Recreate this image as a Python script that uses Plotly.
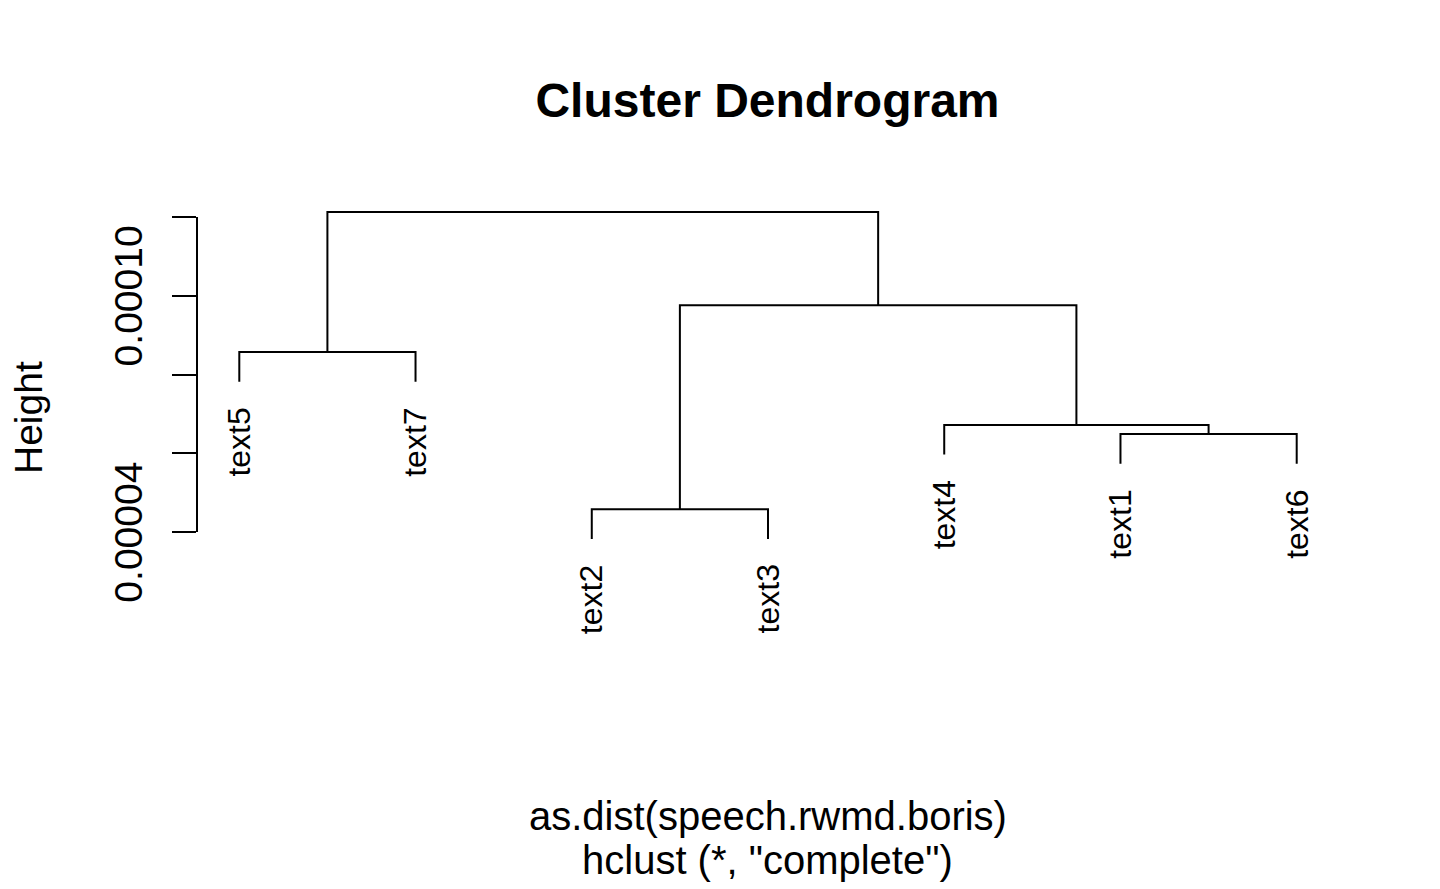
import plotly.graph_objects as go

# ---- data ----
leaf_order = ["text5", "text7", "text2", "text3", "text4", "text1", "text6"]
merge_names = ["m1", "m2", "m3", "m4", "m5", "m6"]
merge_left = ["text1", "text2", "text4", "text5", "m2", "m4"]
merge_right = ["text6", "text3", "m1", "text7", "m3", "m5"]
merge_height = [6.49e-5, 4.58e-5, 6.72e-5, 8.57e-5, 9.76e-5, 1.2127e-4]
tick_vals = [4e-5, 6e-5, 8e-5, 1.0e-4, 1.2e-4]
tick_text = ["0.00004", "", "", "0.00010", ""]

FONT = "Liberation Sans, Arial, Helvetica, sans-serif"
W, H = 1440, 889
ML, MR, MT, MB = 197, 101, 180, 269
PW, PH = W - ML - MR, H - MT - MB
y_lo, y_hi = 1.765e-5, 1.29397e-4


def px_x(px):
    return (px - ML) / PW


def px_y(py):
    return 1 - (py - MT) / PH


hang = 0.1 * (max(merge_height) - min(merge_height))
xpos = {name: i + 1 for i, name in enumerate(leaf_order)}
hpos = {}
for n, l, r, h in zip(merge_names, merge_left, merge_right, merge_height):
    xpos[n] = (xpos[l] + xpos[r]) / 2
    hpos[n] = h

xs, ys = [], []
leaf_bottom = {}
for n, l, r, h in zip(merge_names, merge_left, merge_right, merge_height):
    yl = hpos[l] if l in hpos else h - hang
    yr = hpos[r] if r in hpos else h - hang
    if l not in hpos:
        leaf_bottom[l] = yl
    if r not in hpos:
        leaf_bottom[r] = yr
    xs += [xpos[l], xpos[l], xpos[r], xpos[r], None]
    ys += [yl, h, h, yr, None]

fig = go.Figure()
fig.add_trace(go.Scatter(x=xs, y=ys, mode="lines",
                         line=dict(color="black", width=2),
                         hoverinfo="skip", showlegend=False))

annotations = []
for name in leaf_order:
    annotations.append(dict(x=xpos[name], y=leaf_bottom[name], xref="x", yref="y",
                            text=name, textangle=-90, showarrow=False,
                            xanchor="center", yanchor="top", yshift=-24,
                            font=dict(family=FONT, size=32, color="black")))
cx = px_x(767.5)
annotations.append(dict(x=cx, y=px_y(816), xref="paper", yref="paper",
                        text="as.dist(speech.rwmd.boris)", showarrow=False,
                        xanchor="center", yanchor="middle",
                        font=dict(family=FONT, size=40, color="black")))
annotations.append(dict(x=cx, y=px_y(860), xref="paper", yref="paper",
                        text='hclust (*, "complete")', showarrow=False,
                        xanchor="center", yanchor="middle",
                        font=dict(family=FONT, size=40, color="black")))
annotations.append(dict(x=px_x(28), y=px_y(418), xref="paper", yref="paper",
                        text="Height", textangle=-90, showarrow=False,
                        xanchor="center", yanchor="middle",
                        font=dict(family=FONT, size=39, color="black")))

fig.update_layout(
    width=W, height=H,
    margin=dict(l=ML, r=MR, t=MT, b=MB),
    paper_bgcolor="white", plot_bgcolor="white",
    title=dict(text="<b>Cluster Dendrogram</b>", x=767.5 / W, xanchor="center",
               y=1 - 100 / H, yanchor="middle", yref="container",
               font=dict(family=FONT, size=48, color="black")),
    annotations=annotations,
    shapes=[dict(type="line", xref="paper", yref="y", x0=0, x1=0,
                 y0=tick_vals[0], y1=tick_vals[-1],
                 line=dict(color="black", width=2))],
    xaxis=dict(range=[0.76, 7.24], visible=False),
    yaxis=dict(range=[y_lo, y_hi], showgrid=False, zeroline=False, showline=False,
               tickvals=tick_vals, ticktext=tick_text, ticks="outside",
               ticklen=24, tickwidth=2, tickcolor="black", tickangle=-90,
               ticklabelstandoff=14, ticklabelshift=6,
               tickfont=dict(family=FONT, size=39, color="black")),
)

fig.write_html("out.html")
